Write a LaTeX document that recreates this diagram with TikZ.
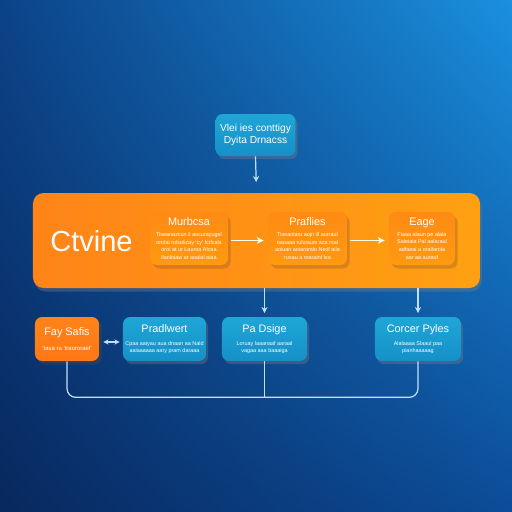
\documentclass[tikz,border=0pt]{standalone}
\usepackage{fontspec}
\setmainfont{Liberation Sans}
\usetikzlibrary{shadows,shadings,arrows.meta,calc}
\definecolor{bgTL}{HTML}{0C4388}
\definecolor{bgTR}{HTML}{1A90DE}
\definecolor{bgBL}{HTML}{08285E}
\definecolor{bgBR}{HTML}{0C4C98}
\definecolor{tealA}{HTML}{1FA6D6}
\definecolor{tealB}{HTML}{1590C8}
\definecolor{orA}{HTML}{FF8418}
\definecolor{orB}{HTML}{FFA012}
\definecolor{orInA}{HTML}{FF8A14}
\definecolor{orInB}{HTML}{FF9A10}
\definecolor{lineC}{HTML}{BFE0F6}
\tikzset{
  tealbox/.style={rounded corners=4pt, top color=tealA, bottom color=tealB, text=white,
    drop shadow={opacity=0.35, shadow xshift=1.2pt, shadow yshift=-1.8pt}, align=flush center, inner sep=0pt},
  orbox/.style={rounded corners=4pt, top color=orInA, bottom color=orInB, text=white,
    drop shadow={opacity=0.28, shadow xshift=1.5pt, shadow yshift=-2pt, fill=brown!60!black}, align=flush center, inner sep=0pt},
  bigbox/.style={rounded corners=6pt, left color=orA, right color=orB,
    drop shadow={opacity=0.35, shadow xshift=1pt, shadow yshift=-2pt}},
  conn/.style={draw=lineC, line width=0.7pt},
  arr/.style={conn, -{Stealth[length=3.5pt,width=3.5pt]}},
  warr/.style={draw=white!90!yellow, line width=0.8pt, -{Stealth[length=4pt,width=4pt]}},
}
\newcommand{\bodyfont}{\fontsize{3.1}{4.4}\selectfont}
\newcommand{\hdfont}{\fontsize{6.2}{7}\selectfont}
\begin{document}
\begin{tikzpicture}[x=0.02cm,y=-0.02cm]
\useasboundingbox (0,0) rectangle (512,512);
\shade[upper left=bgTL, upper right=bgTR, lower left=bgBL, lower right=bgBR] (0,0) rectangle (512,512);

% top box
\node[tealbox, text width=80*0.02cm, minimum height=42*0.02cm] (top) at (255.5,135)
  {\fontsize{5.8}{6.6}\selectfont Vlei ies conttigy\\ Dyita Drnacss\par};

% big orange box
\node[bigbox, minimum width=447*0.02cm, minimum height=95*0.02cm] (big) at (256.5,240.5) {};
\node[text=white, font=\fontsize{16.5}{19}\selectfont, anchor=west, inner sep=0pt] (title) at (50,241) {Ctvine};

% inner boxes
\node[orbox, text width=78*0.02cm, minimum height=53*0.02cm] (m1) at (189,238.5)
  {\hdfont Murbcsa\par\vspace{2pt}\bodyfont Tiseanazcun il aocurayugel\\ onrlai rolsolicay `cy' lcrlcals\\ oroi at ur Lauroa Alcaa\\ ilanloiaw ar aoalal aiaa\par};
\node[orbox, text width=79*0.02cm, minimum height=53*0.02cm] (m2) at (307.5,238.5)
  {\hdfont Praflies\par\vspace{2pt}\bodyfont Tiseanlaru aojn ill aurraul\\ oaoaaa ruloiaum aca rsal\\ aoiuan aoiararalo Nedl aila\\ rusau a nrarainl loa\par};
\node[orbox, text width=66*0.02cm, minimum height=53*0.02cm] (m3) at (422,238.5)
  {\hdfont Eage\par\vspace{2pt}\bodyfont Fiaaa alaun pe alala\\ Saleiala Pal aalaraul\\ adfaeai a orallarola\\ aar aa aurauf\par};

% bottom boxes
\node[orbox, top color=orA, bottom color=orA!90!red, text width=64*0.02cm, minimum height=44*0.02cm] (fay) at (67,339)
  {\hdfont Fay Safis\par\vspace{4pt}\fontsize{3.4}{4.5}\selectfont `tasa ra `traororael'\par};
\node[tealbox, text width=83*0.02cm, minimum height=44*0.02cm] (prad) at (164.5,339)
  {\hdfont Pradlwert\par\vspace{3pt}\bodyfont Cpaa aaiyau aua dnaan aa Nald\\ aaiaaaaaa aary pram daraaa\par};
\node[tealbox, text width=85*0.02cm, minimum height=44*0.02cm] (pa) at (264.5,339)
  {\hdfont Pa Dsige\par\vspace{3pt}\bodyfont Loruay laaanaaf aaraal\\ vagaa aaa baaaiga\par};
\node[tealbox, text width=86*0.02cm, minimum height=44*0.02cm] (cor) at (418,339)
  {\hdfont Corcer Pyles\par\vspace{3pt}\bodyfont Alalaaaa Slaaul paa\\ pianhaaaaag\par};

% connectors
\draw[arr, shorten >=6pt] (top.south) -- (big.north);
\draw[warr] ($(m1.east)+(3,2)$) -- ($(m2.west)+(-4,2)$);
\draw[warr] ($(m2.east)+(3,2)$) -- ($(m3.west)+(-4,2)$);
\draw[arr, shorten >=2pt] (big.south -| pa.north) -- (pa.north);
\draw[arr, shorten >=2pt] (big.south -| cor.north) -- (cor.north);
\draw[conn, {Stealth[length=3pt,width=3pt]}-{Stealth[length=3pt,width=3pt]}] ($(fay.east)+(4,3)$) -- ($(prad.west)+(-3,3)$);
\path (fay.south) ++(0,36) coordinate (jl);
\draw[conn, rounded corners=5pt] (fay.south) -- (jl) -| (cor.south);
\draw[conn] (pa.south) -- (pa.south |- jl);
\end{tikzpicture}
\end{document}
